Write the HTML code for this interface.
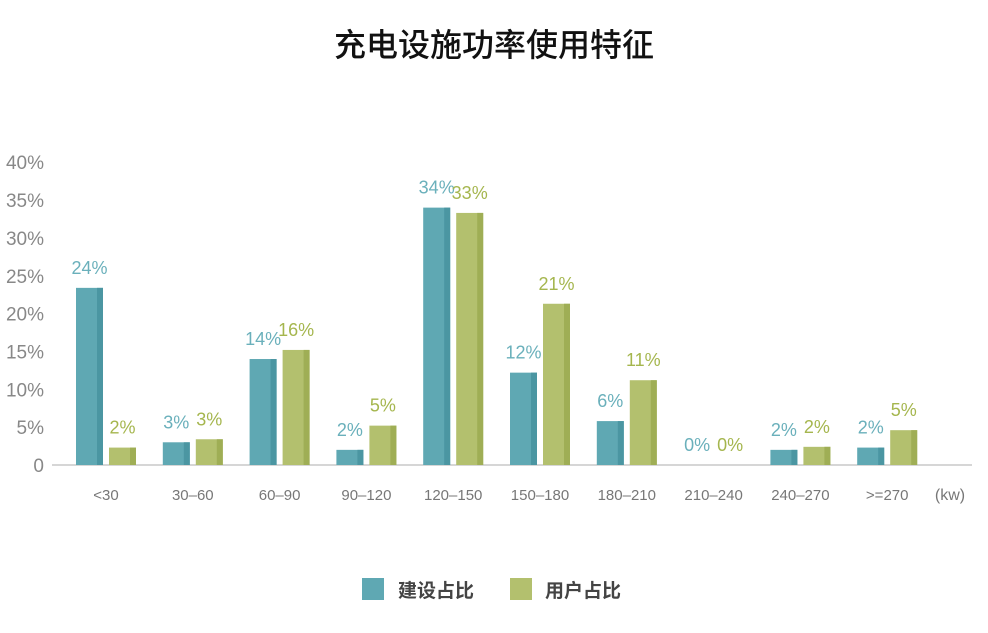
<!DOCTYPE html>
<html><head><meta charset="utf-8"><style>
body{margin:0;background:#fff;width:988px;height:628px;overflow:hidden;font-family:"Liberation Sans","Noto Sans CJK SC",sans-serif}
</style></head><body>
<svg id="c" width="988" height="628">
<text x="494" y="56" text-anchor="middle" font-size="32" font-weight="500" fill="#111" font-family="Liberation Sans, Noto Sans CJK SC, sans-serif">充电设施功率使用特征</text>
<line x1="52" y1="465" x2="972" y2="465" stroke="#c8c8c8" stroke-width="1.5"/>
<text x="950" y="500" text-anchor="middle" font-size="16" fill="#777">(kw)</text>
<g>
<rect x="362" y="578" width="22" height="22" fill="#5fa8b3"/>
<text x="398" y="597" font-size="19" font-weight="bold" fill="#444">建设占比</text>
<rect x="510" y="578" width="22" height="22" fill="#b3c06e"/>
<text x="545" y="597" font-size="19" font-weight="bold" fill="#444">用户占比</text>
</g>
</svg>
<script>
const categories=["<30","30-60","60-90","90-120","120-150","150-180","180-210","210-240","240-270",">=270"];
const buildValues=[23.4,3,14,2,34,12.2,5.8,0,2,2.3];
const userValues=[2.3,3.4,15.2,5.2,33.3,21.3,11.2,0,2.4,4.6];
const buildLabels=["24%","3%","14%","2%","34%","12%","6%","0%","2%","2%"];
const userLabels=["2%","3%","16%","5%","33%","21%","11%","0%","2%","5%"];
const yTicks=[0,5,10,15,20,25,30,35,40];
const svg=document.getElementById('c');
const NS='http://www.w3.org/2000/svg';
const y=v=>465-v*7.57;
const xc=i=>106+i*86.8;
function mk(t,a){const e=document.createElementNS(NS,t);for(const k in a)e.setAttribute(k,a[k]);svg.appendChild(e);return e;}
yTicks.forEach(v=>{const t=mk('text',{x:44,y:y(v)+7,'text-anchor':'end','font-size':19,fill:'#888'});t.textContent=v===0?'0':v+'%';

});
categories.forEach((c,i)=>{
const t=mk('text',{x:xc(i),y:500,'text-anchor':'middle','font-size':15,fill:'#777'});t.textContent=c.replace('-','–');


[[buildValues,buildLabels,-30,'#5fa8b3','#4b96a2','#6fb4bf'],[userValues,userLabels,3,'#b3c06e','#9fae55','#c2cd85']].forEach(([vals,labs,off,col,dark,lab])=>{
const v=vals[i],x=xc(i)+off,top=y(v),h=465-top;
if(h>0){const r=mk('rect',{x:x,y:top,width:27,height:h,fill:col});


const s=mk('rect',{x:x+21,y:top,width:6,height:h,fill:dark});

}
const l=mk('text',{x:x+13.5,y:top-14,'text-anchor':'middle','font-size':18,fill:off<0?'#6ab0bb':'#a5b64e'});l.textContent=labs[i];


});
});
</script>
</body></html>
